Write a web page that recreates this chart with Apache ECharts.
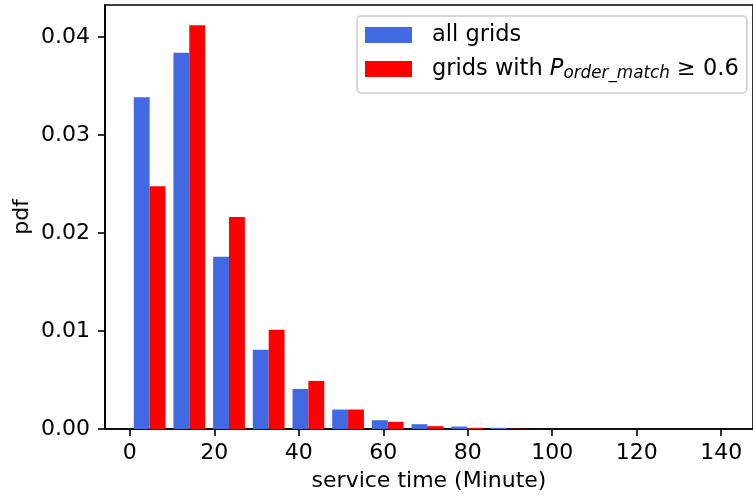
<!DOCTYPE html>
<html><head><meta charset="utf-8">
<script src="https://cdn.jsdelivr.net/npm/echarts@6/dist/echarts.min.js"></script>
<style>html,body{margin:0;padding:0;background:#fff}#c{width:753px;height:497px}</style>
</head><body><div id="c"></div>
<script>
// ---- data ----
const binLefts = [0, 9.39, 18.79, 28.18, 37.58, 46.97, 56.36, 65.76, 75.15, 84.55, 93.94, 103.33, 112.73, 122.12, 131.52];
const binWidth = 9.39;
const allGrids = [0.03386, 0.03841, 0.01757, 0.0081, 0.00409, 0.00199, 0.0009, 0.00049, 0.00025, 0.00012, 0, 0, 0, 0, 0];
const matchedGrids = [0.02477, 0.04122, 0.02164, 0.01013, 0.00491, 0.00199, 0.00073, 0.00029, 0.00012, 0.00003, 0, 0, 0, 0, 0];
const xTicks = [0, 20, 40, 60, 80, 100, 120, 140];
const yTicks = [0, 0.01, 0.02, 0.03, 0.04];
const seriesNames = ['all grids', 'grids with P_order_match ≥ 0.6'];
const seriesColors = ['#4169E1', '#FF0000'];

const FONT = 'DejaVu Sans';
function barData(vals, k) {
  // matplotlib hist: group takes 80% of bin, split between the two series
  return binLefts.map((b, i) => [b + binWidth * (0.1 + 0.4 * k), b + binWidth * (0.1 + 0.4 * (k + 1)), vals[i]]);
}
function renderBar(params, api) {
  const p0 = api.coord([api.value(0), api.value(2)]);
  const p1 = api.coord([api.value(1), 0]);
  return { type: 'rect', shape: { x: p0[0], y: p0[1], width: p1[0] - p0[0], height: p1[1] - p0[1] },
           style: { fill: api.visual('color') } };
}
const chart = echarts.init(document.getElementById('c'), null, { renderer: 'canvas' });
chart.setOption({
  animation: false,
  backgroundColor: '#fff',
  grid: { left: 105, top: 5, right: -5, bottom: 67.5, show: true, borderColor: '#000', borderWidth: 1.6, backgroundColor: 'transparent' },
  xAxis: {
    type: 'value', min: -5.87, max: -5.87 + 653 / 4.257,
    name: 'service time (Minute)', nameLocation: 'middle', nameGap: 41,
    nameTextStyle: { fontFamily: FONT, fontSize: 22, color: '#000' },
    axisLine: { show: true, onZero: false, lineStyle: { color: '#000', width: 1.6 } },
    axisTick: { show: true, length: 7, inside: false, lineStyle: { color: '#000', width: 1.6 }, customValues: xTicks },
    axisLabel: { customValues: xTicks, margin: 13, fontFamily: FONT, fontSize: 22, color: '#000' },
    splitLine: { show: false }
  },
  yAxis: {
    type: 'value', min: 0, max: 0.04328,
    name: 'pdf', nameLocation: 'middle', nameGap: 72, nameRotate: 90, nameMoveOverlap: false,
    nameTextStyle: { fontFamily: FONT, fontSize: 22, color: '#000' },
    axisLine: { show: true, onZero: false, lineStyle: { color: '#000', width: 1.6 } },
    axisTick: { show: true, length: 7, inside: false, lineStyle: { color: '#000', width: 1.6 }, customValues: yTicks },
    axisLabel: { customValues: yTicks, margin: 15, fontFamily: FONT, fontSize: 22, color: '#000', formatter: v => v.toFixed(2) },
    splitLine: { show: false }
  },
  legend: {
    orient: 'vertical', left: 357, top: 16,
    padding: [6, 8, 11, 8], itemGap: 8,
    icon: 'rect', itemWidth: 47, itemHeight: 16,
    borderColor: '#cccccc', borderWidth: 1.5, borderRadius: 4, backgroundColor: 'rgba(255,255,255,0.8)',
    data: seriesNames,
    formatter: function (name) {
      if (name === seriesNames[1]) return '{sp|}{n|grids with }{i|P}{s|order_match}{n| ≥ 0.6}';
      return '{sp|}{n|' + name + '}';
    },
    textStyle: {
      fontFamily: FONT, fontSize: 22.5, color: '#000', lineHeight: 26,
      rich: {
        sp: { width: 15, lineHeight: 26 },
        n: { fontFamily: FONT, fontSize: 22.5, color: '#000', lineHeight: 26 },
        i: { fontFamily: FONT, fontSize: 22.5, fontStyle: 'italic', color: '#000', lineHeight: 26 },
        s: { fontFamily: FONT, fontSize: 16.8, fontStyle: 'italic', color: '#000', lineHeight: 13, verticalAlign: 'bottom' }
      }
    }
  },
  series: [
    { type: 'custom', name: seriesNames[0], color: seriesColors[0], itemStyle: { color: seriesColors[0] },
      renderItem: renderBar, encode: { x: [0, 1], y: 2 }, data: barData(allGrids, 0) },
    { type: 'custom', name: seriesNames[1], color: seriesColors[1], itemStyle: { color: seriesColors[1] },
      renderItem: renderBar, encode: { x: [0, 1], y: 2 }, data: barData(matchedGrids, 1) }
  ]
});
</script></body></html>
